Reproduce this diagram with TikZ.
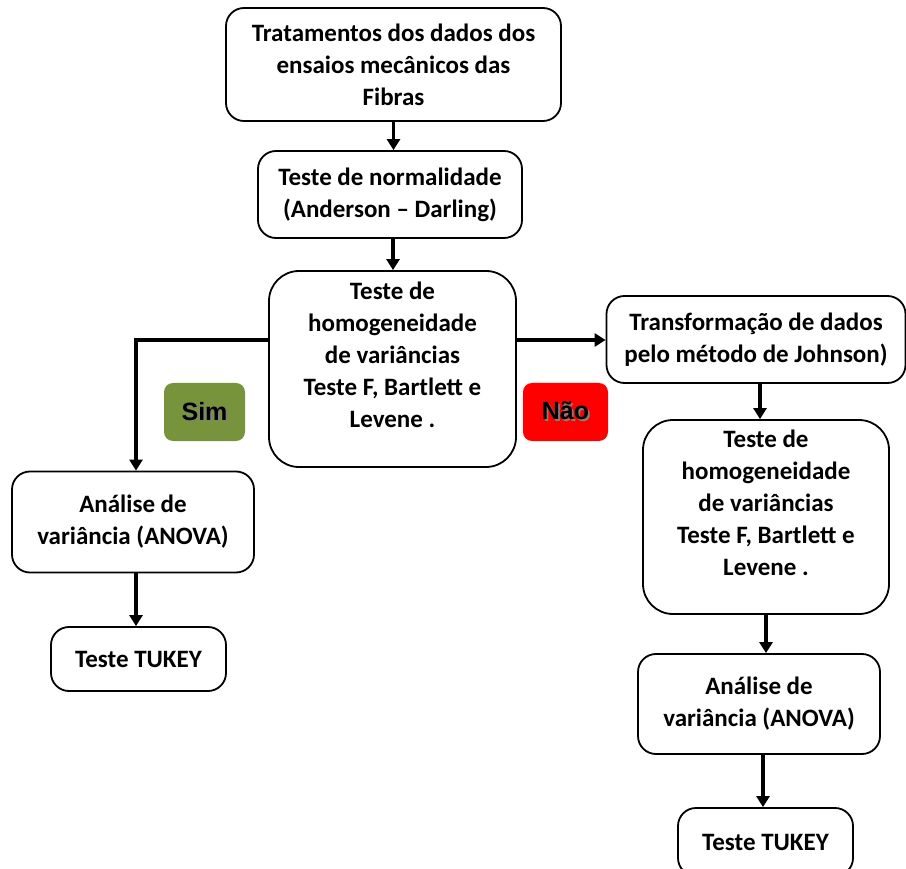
\documentclass[tikz,border=0pt]{standalone}
\usepackage{fontspec}
\setmainfont{Carlito}
\newfontfamily\labelfont{Liberation Sans}
\usetikzlibrary{arrows.meta}
\definecolor{simgreen}{HTML}{77933C}
\definecolor{naored}{HTML}{FF0000}
\tikzset{
  boxtext/.style={align=center, inner sep=0pt, font=\fontsize{25}{32}\selectfont\bfseries},
  procbox/.style={draw=black, line width=1.8pt, rounded corners=18pt, fill=white, boxtext},
  bigbox/.style={procbox, rounded corners=30pt},
  tagbox/.style={rounded corners=9pt, inner sep=0pt, draw=none},
  flow/.style={line width=3.4pt, -{Triangle[width=13pt,length=11pt]}},
}
\newcommand{\shadowed}[1]{%
  \makebox[0pt][l]{\raisebox{-1.8pt}{\hspace{1.8pt}\textcolor{black!50}{#1}}}#1}
\begin{document}
\begin{tikzpicture}[x=1pt,y=-1pt]
  \useasboundingbox (0,0) rectangle (906,869);
  \clip (0,0) rectangle (906,869);

  % main column
  \node[procbox, minimum width=335pt, minimum height=113pt] (b1) at (393.5,64.5)
    {Tratamentos dos dados dos\\ensaios mecânicos das\\Fibras};
  \node[procbox, minimum width=264pt, minimum height=87pt] (b2) at (390,194.5)
    {Teste de normalidade\\(Anderson – Darling)};
  \node[bigbox, minimum width=247pt, minimum height=196pt] (b3) at (392.5,369) {};
  \node[boxtext, yshift=14pt] (t3) at (b3.center)
    {Teste de\\homogeneidade\\de variâncias\\Teste F, Bartlett e\\Levene .};

  % left branch
  \node[procbox, minimum width=242pt, minimum height=101pt] (b8) at (133,522)
    {Análise de\\variância (ANOVA)};
  \node[procbox, minimum width=175pt, minimum height=64pt] (b9) at (138.5,659)
    {Teste TUKEY};

  % right branch
  \node[procbox, minimum width=299pt, minimum height=87pt] (b4) at (756,339.5)
    {Transformação de dados\\pelo método de Johnson)};
  \node[bigbox, minimum width=246pt, minimum height=194pt] (b5) at (766,517) {};
  \node[boxtext, yshift=14pt] (t5) at (b5.center)
    {Teste de\\homogeneidade\\de variâncias\\Teste F, Bartlett e\\Levene .};
  \node[procbox, minimum width=242pt, minimum height=100pt] (b6) at (759,704)
    {Análise de\\variância (ANOVA)};
  \node[procbox, minimum width=175pt, minimum height=68pt] (b7) at (765.5,842)
    {Teste TUKEY};

  % decision tags
  \node[tagbox, fill=simgreen, minimum width=81pt, minimum height=58pt] (sim) at (204.5,412)
    {\labelfont\fontsize{25}{25}\selectfont\bfseries\shadowed{Sim}};
  \node[tagbox, fill=naored, minimum width=85pt, minimum height=58pt] (nao) at (565.5,412)
    {\labelfont\fontsize{25}{25}\selectfont\bfseries\shadowed{Não}};

  % connectors
  \coordinate (split) at (0,340);
  \draw[flow] (b1.south) -- (b1.south |- b2.north);
  \draw[flow] ([xshift=3pt]b2.south) -- ([xshift=3pt]b2.south |- b3.north);
  \draw[flow] (b3.west |- split) -| ([xshift=3pt]b8.north);
  \draw[flow] (b3.east |- split) -- (b4.west |- split);
  \draw[flow] ([xshift=4pt]b4.south) -- ([xshift=4pt]b4.south |- b5.north);
  \draw[flow] (b5.south) -- (b5.south |- b6.north);
  \draw[flow] ([xshift=4pt]b6.south) -- ([xshift=4pt]b6.south |- b7.north);
  \draw[flow] ([xshift=3pt]b8.south) -- ([xshift=3pt]b8.south |- b9.north);
\end{tikzpicture}
\end{document}
